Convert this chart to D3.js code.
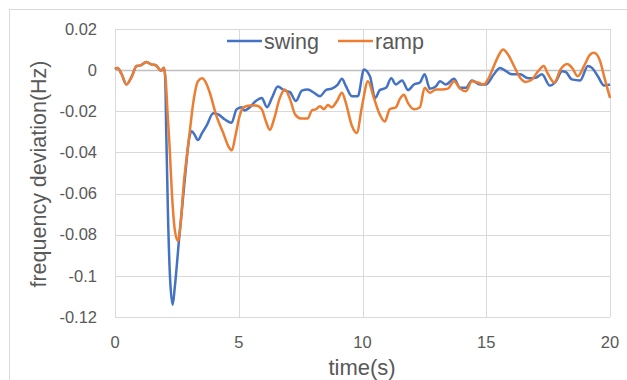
<!DOCTYPE html>
<html>
<head>
<meta charset="utf-8">
<script src="https://cdn.jsdelivr.net/npm/d3@7"></script>
<style>
  body { margin: 0; background: #fff; }
  svg text { font-family: "Liberation Sans", Arial, sans-serif; fill: #595959; }
</style>
</head>
<body>
<svg id="chart" width="627" height="380"></svg>
<script>
// series data
const seriesNames = ['swing', 'ramp'];
const xTicks = [0, 5, 10, 15, 20];
const yTicks = [0.02, 0, -0.02, -0.04, -0.06, -0.08, -0.1, -0.12];
const yTickLabels = ['0.02', '0', '-0.02', '-0.04', '-0.06', '-0.08', '-0.1', '-0.12'];

const swingTime = [0, 0.1, 0.27, 0.46, 0.68, 0.87, 1.03, 1.27, 1.46, 1.65, 1.86, 1.98,
  2.03, 2.07, 2.14, 2.22, 2.33, 2.42, 2.59, 2.82, 3.0, 3.09, 3.2, 3.35, 3.5, 3.7, 3.97, 4.17, 4.44, 4.71, 4.91,
  5.11, 5.24, 5.45, 5.69, 5.93, 6.14, 6.34, 6.58, 6.82, 7.07, 7.31, 7.55, 7.79, 8.04, 8.28, 8.52, 8.76,
  9.0, 9.17, 9.33, 9.57, 9.81, 10.06, 10.3, 10.51, 10.7, 10.95, 11.16, 11.35, 11.6, 11.84, 12.08, 12.32,
  12.51, 12.72, 12.97, 13.13, 13.37, 13.7, 13.94, 14.18, 14.42, 14.75, 14.99, 15.31, 15.55, 15.8, 16.04,
  16.37, 16.69, 17.0, 17.25, 17.57, 17.82, 18.06, 18.22, 18.46, 18.79, 19.11, 19.27, 19.51, 19.76, 20];
const swingFreq = [0.0005, 0.001, -0.002, -0.007, -0.003, 0.002, 0.0023, 0.004, 0.0028, 0.0024, -0.0003, 0.0012,
  -0.004, -0.03, -0.07, -0.1, -0.114, -0.105, -0.082, -0.053, -0.033, -0.0297, -0.031, -0.034, -0.031, -0.027,
  -0.021, -0.0215, -0.024, -0.0256, -0.0191,
  -0.018, -0.0196, -0.018, -0.015, -0.0135, -0.018, -0.0135, -0.008, -0.0097, -0.0107, -0.015, -0.010, -0.0094,
  -0.011, -0.0127, -0.0097, -0.009,
  -0.007, -0.0042, -0.0078, -0.0127, -0.0127, 0.0003, -0.003, -0.0135, -0.0097, -0.0086, -0.004, -0.007,
  -0.005, -0.0097, -0.007, -0.006,
  -0.002, -0.009, -0.0078, -0.0054, -0.007, -0.0042, -0.0086, -0.0086, -0.005, -0.007, -0.007, -0.002,
  0.0011, -0.0005, -0.002,
  -0.002, -0.004, -0.0037, -0.002, -0.0075, -0.0054, -0.0005, -0.001, -0.0045, -0.005, 0.002, 0.0011,
  -0.003, -0.0075, -0.007];

const rampTime = [0, 0.1, 0.27, 0.46, 0.68, 0.87, 1.03, 1.27, 1.46, 1.65, 1.86, 1.98,
  2.05, 2.12, 2.2, 2.3, 2.42, 2.54, 2.65, 2.78, 2.9, 3.02, 3.16, 3.36, 3.52, 3.67, 3.83, 4.1, 4.37, 4.6, 4.72,
  4.88, 5.04, 5.2, 5.45, 5.69, 5.93, 6.1, 6.26, 6.42, 6.66, 6.86, 7.07, 7.28, 7.5, 7.79, 7.95, 8.12, 8.28,
  8.44, 8.6, 8.76, 8.97, 9.17, 9.33, 9.57, 9.77, 9.98, 10.22, 10.46, 10.7, 10.9, 11.1, 11.35, 11.51, 11.67,
  11.84, 12.08, 12.32, 12.51, 12.72, 12.97, 13.2, 13.45, 13.7, 13.94, 14.18, 14.42, 14.66, 14.9, 15.07,
  15.31, 15.52, 15.68, 15.88, 16.12, 16.37, 16.6, 16.85, 17.1, 17.32, 17.5, 17.75, 18.0, 18.27, 18.47,
  18.7, 18.95, 19.2, 19.35, 19.6, 19.76, 20];
const rampFreq = [0.0005, 0.001, -0.002, -0.007, -0.003, 0.002, 0.0023, 0.004, 0.0028, 0.0024, -0.0003, 0.0012,
  -0.005, -0.02, -0.036, -0.06, -0.078, -0.083, -0.075, -0.055, -0.042, -0.03, -0.016, -0.0053, -0.004,
  -0.006, -0.011, -0.0224, -0.0304, -0.0375, -0.039,
  -0.031, -0.022, -0.018, -0.0172, -0.0172, -0.019, -0.025, -0.029, -0.024, -0.0135, -0.0094, -0.014,
  -0.0216, -0.0235, -0.0235, -0.0196, -0.019, -0.0175,
  -0.019, -0.017, -0.018, -0.015, -0.011, -0.016, -0.027, -0.0305, -0.0175, -0.0054, -0.0135, -0.0216,
  -0.025, -0.019, -0.018, -0.014, -0.012,
  -0.016, -0.019, -0.018, -0.0086, -0.011, -0.0094, -0.0094, -0.009, -0.0054, -0.009, -0.0102, -0.0054,
  -0.006, -0.007, -0.0045,
  0.002, 0.0076, 0.010, 0.0076, 0.002, -0.0037, -0.0058, -0.0045, -0.0005, 0.002, -0.002, -0.006, 0.0003,
  0.003, 0.0011,
  -0.003, 0.002, 0.0076, 0.0084, 0.0044, -0.003, -0.0135];

const colors = ['#4472C4', '#ED7D31'];

const svg = d3.select('#chart');
const margin = { left: 115, right: 17, top: 29, bottom: 63 };
const width = 627, height = 380;

// outer chart border
svg.append('rect')
  .attr('x', 9.5).attr('y', 9.5)
  .attr('width', 700).attr('height', 500)
  .attr('fill', 'none')
  .attr('stroke', '#d9d9d9');

const x = d3.scaleLinear().domain([0, 20]).range([margin.left, width - margin.right]);
const y = d3.scaleLinear().domain([-0.12, 0.02]).range([height - margin.bottom, margin.top]);

// gridlines
svg.append('g')
  .selectAll('line')
  .data(yTicks)
  .join('line')
  .attr('x1', x(0)).attr('x2', x(20))
  .attr('y1', d => Math.round(y(d)) + 0.5)
  .attr('y2', d => Math.round(y(d)) + 0.5)
  .attr('stroke', d => d === 0 ? '#bfbfbf' : '#d9d9d9')
  .attr('stroke-width', d => d === 0 ? 1.5 : 1);

svg.append('g')
  .selectAll('line')
  .data(xTicks)
  .join('line')
  .attr('x1', d => Math.round(x(d)) + 0.5)
  .attr('x2', d => Math.round(x(d)) + 0.5)
  .attr('y1', y(0.02)).attr('y2', y(-0.12))
  .attr('stroke', '#d9d9d9');

// tick labels
svg.append('g')
  .selectAll('text')
  .data(yTicks)
  .join('text')
  .attr('x', 97)
  .attr('y', d => y(d))
  .attr('dy', '0.35em')
  .attr('text-anchor', 'end')
  .style('font-size', '16.5px')
  .text((d, i) => yTickLabels[i]);

svg.append('g')
  .selectAll('text')
  .data(xTicks)
  .join('text')
  .attr('x', d => x(d))
  .attr('y', 348)
  .attr('text-anchor', 'middle')
  .style('font-size', '16.5px')
  .text(d => d);

// axis titles
svg.append('text')
  .attr('transform', 'translate(46,' + 174 + ') rotate(-90)')
  .attr('text-anchor', 'middle')
  .style('font-size', '21.5px')
  .text('frequency deviation(Hz)');

svg.append('text')
  .attr('x', 362)
  .attr('y', 375)
  .attr('text-anchor', 'middle')
  .style('font-size', '22px')
  .text('time(s)');

// lines
const line = d3.line()
  .x(d => x(d[0]))
  .y(d => y(d[1]))
  .curve(d3.curveMonotoneX);

const series = [
  d3.zip(swingTime, swingFreq),
  d3.zip(rampTime, rampFreq)
];

svg.append('g')
  .selectAll('path')
  .data(series)
  .join('path')
  .attr('d', line)
  .attr('fill', 'none')
  .attr('stroke', (d, i) => colors[i])
  .attr('stroke-width', 2.5)
  .attr('stroke-linejoin', 'round');

// legend
const legendX = [227, 338];
const legend = svg.append('g')
  .selectAll('g')
  .data(seriesNames)
  .join('g')
  .attr('transform', (d, i) => 'translate(' + legendX[i] + ',41)');

legend.append('line')
  .attr('x1', 0).attr('x2', 35)
  .attr('stroke', (d, i) => colors[i])
  .attr('stroke-width', 2.5);

legend.append('text')
  .attr('x', 37)
  .attr('dy', '0.35em')
  .style('font-size', '21.5px')
  .text(d => d);
</script>
</body>
</html>
